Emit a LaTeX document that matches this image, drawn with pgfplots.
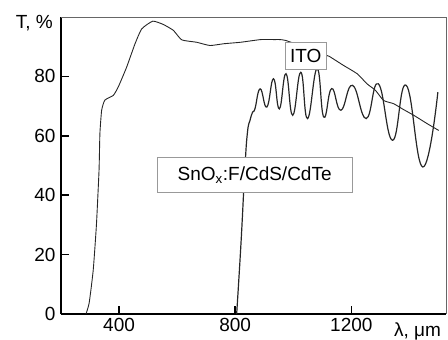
\documentclass[border=0pt]{standalone}
\usepackage{fontspec}
\setmainfont{Liberation Sans}
\usepackage{pgfplots}
\pgfplotsset{compat=1.18}
\newcommand{\lf}{\fontsize{19bp}{21bp}\selectfont}
\begin{document}
\begin{tikzpicture}
\useasboundingbox (0,0) rectangle (448bp,340bp);
\begin{axis}[
  at={(61bp,26bp)}, anchor=south west,
  scale only axis, width=385bp, height=297bp,
  xmin=200, xmax=1526, ymin=0, ymax=100,
  axis x line*=bottom, axis y line*=left,
  axis line style={line width=1.8pt, -},
  xtick={400,800,1200}, ytick={0,20,40,60,80},
  tick align=inside, major tick length=8bp,
  tick style={line width=1.5pt, black},
  /pgf/number format/assume math mode=true,
  /pgf/number format/1000 sep={},
  tick label style={font=\lf},
  xticklabel style={yshift=-1bp},
  yticklabel style={xshift=-2bp},
  clip=false,
]
\addplot[line width=0.9pt, color=black!85, smooth, tension=0.3] coordinates {
(286,0) (297,3.7) (311,14.8) (322,30) (331,48.4) (334,60.8) (340,68.6) (351,72)
(380,73.6) (397,76.4) (426,83.1) (455,91) (478,96) (516,98.6) (552,97.5)
(587,95.5) (616,92.3) (667,91.5) (713,90.4) (761,91) (819,91.5) (888,92.4)
(933,92.4) (974,92.1) (1117,87) (1128,86.5) (1173,83.7) (1220,80.9) (1254,77.5)
(1283,75.3) (1311,71.9) (1346,70.8) (1375,69.1) (1415,66.9) (1461,64.1) (1501,61.8)
};
\addplot[line width=1.2pt, color=black!85, smooth, tension=0.8] coordinates {
(805,0) (820,24) (833,48.4) (842,61) (851,65.2) (860,68) (868,69.1) (886,75.8)
(909,69.7) (932,79.2) (952,69.1) (975,80.9) (998,66.9) (1026,81.4) (1049,65.8)
(1082,82.6) (1105,66.3) (1132,75.9) (1164,68.6) (1204,77) (1251,65.8)
(1293,77.5) (1342,58.5) (1389,77) (1446,49.5) (1498,74.7)
};
\draw[black!60, line width=0.8pt] (rel axis cs:0,1) -- (rel axis cs:1,1) -- (rel axis cs:1,0);
\node[draw=black!40, fill=white, line width=0.8pt, minimum width=41bp, minimum height=27bp, inner sep=0pt, font=\lf] at (axis cs:1043,86.8) {ITO};
\node[draw=black!40, fill=white, line width=0.8pt, minimum width=195bp, minimum height=35bp, inner sep=0pt, font=\lf] at (axis cs:867,46.9) {SnO\textsubscript{x}:F/CdS/CdTe};
\node[anchor=east, inner sep=0pt, font=\lf, xshift=-8bp, yshift=-6bp] at (rel axis cs:0,1) {T, \%};
\node[anchor=base, inner sep=0pt, font=\lf, yshift=-22.7bp] at (axis cs:1428,0) {λ, μm};
\end{axis}
\end{tikzpicture}
\end{document}
